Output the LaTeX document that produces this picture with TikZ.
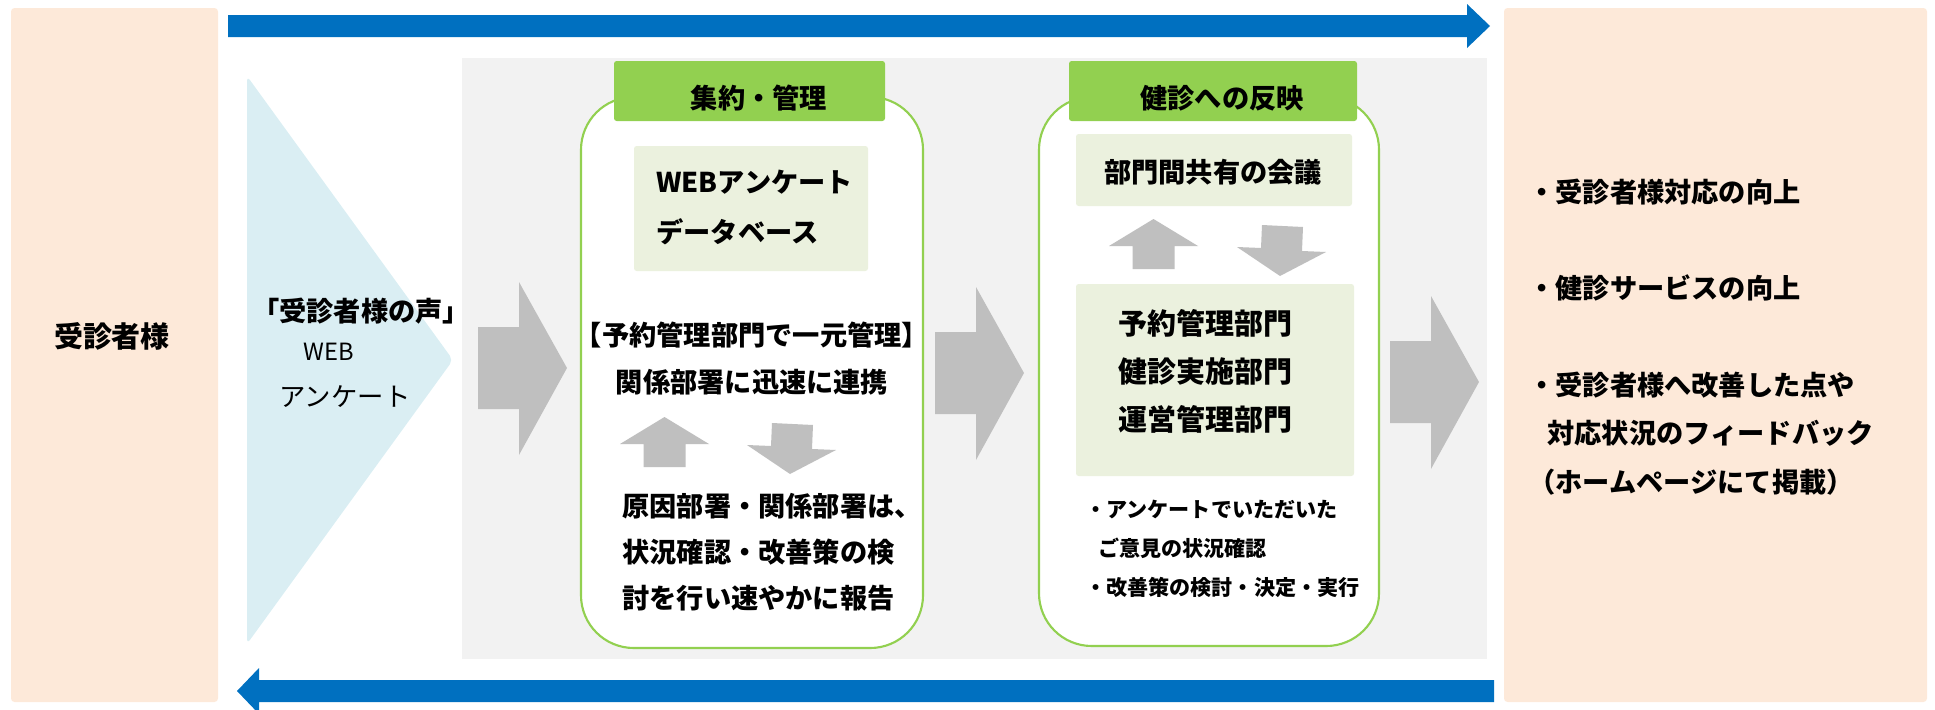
\documentclass[tikz,border=0pt]{standalone}
\usepackage{fontspec}
\setmainfont{Noto Sans CJK JP}
\usetikzlibrary{positioning}

\definecolor{peach}{HTML}{FDE9D9}
\definecolor{flowblue}{HTML}{0070C0}
\definecolor{panelgray}{HTML}{F2F2F2}
\definecolor{leafgreen}{HTML}{92D050}
\definecolor{palegreen}{HTML}{EBF1DE}
\definecolor{skyblue}{HTML}{DAEEF3}
\definecolor{arrowgray}{HTML}{BFBFBF}

\tikzset{
  btxt/.style={font=\bfseries\fontsize{15.5}{26.5}\selectfont, inner sep=0pt},
  bigtxt/.style={font=\bfseries\fontsize{16.5}{27.3}\selectfont, inner sep=0pt},
  ntxt/.style={font=\fontsize{15}{18}\selectfont, inner sep=0pt},
  stxt/.style={font=\bfseries\fontsize{12}{22}\selectfont, inner sep=0pt},
  stagebox/.style={draw=leafgreen, line width=1.2pt, fill=white, rounded corners=30pt},
  palebox/.style={fill=palegreen, rounded corners=1.5pt},
}

\begin{document}
\begin{tikzpicture}[x=0.02cm, y=-0.02cm]
\useasboundingbox (0,0) rectangle (1935,710);

\fill[peach, rounded corners=2pt] (11,8) rectangle (218,702);
\fill[peach, rounded corners=2pt] (1504,8) rectangle (1927,702);

\fill[flowblue] (228,15) -- (1467,15) -- (1467,4) -- (1490,26) -- (1467,48) -- (1467,37) -- (228,37) -- cycle;
\fill[flowblue] (1494,680) -- (259,680) -- (259,668) -- (237,691) -- (259,714) -- (259,702) -- (1494,702) -- cycle;

\fill[panelgray] (462,58) rectangle (1487,659);
\fill[skyblue, rounded corners=3pt] (247,76) -- (453,360) -- (247,644) -- cycle;

\foreach \x/\y in {478/368, 935/373, 1390/382}
  \fill[arrowgray] (\x,\y-41) -- (\x+41,\y-41) -- (\x+41,\y-86) -- (\x+89,\y) -- (\x+41,\y+87) -- (\x+41,\y+41) -- (\x,\y+41) -- cycle;

\draw[stagebox] (581,97) rectangle (923,648);
\draw[stagebox] (1039,97) rectangle (1379,646);
\fill[leafgreen, rounded corners=1.5pt] (614,61) rectangle (885,121);
\fill[leafgreen, rounded corners=1.5pt] (1069,61) rectangle (1357,121);

\fill[palebox] (634,146) rectangle (868,271);
\fill[palebox] (1076,134) rectangle (1352,206);
\fill[palebox] (1076,284) rectangle (1354,476);

\foreach \x/\y in {664.5/417, 1153.5/219}
  \fill[arrowgray] (\x,\y) -- (\x+44.5,\y+27) -- (\x+21,\y+27) -- (\x+21,\y+50) -- (\x-21,\y+50) -- (\x-21,\y+27) -- (\x-44.5,\y+27) -- cycle;
\foreach \x/\y in {772/423, 1262/225}
  \fill[arrowgray] (\x,\y) -- (\x+41,\y+2) -- (\x+40,\y+26) -- (\x+64,\y+27) -- (\x+18,\y+51) -- (\x-25,\y+22) -- (\x-1,\y+23) -- cycle;

\node[bigtxt] (client) at (112,336) {受診者様};
\node[btxt] (voice) at (361,311) {「受診者様の声」};
\node[ntxt, font=\fontsize{13.5}{16}\selectfont] (web) at (329,352) {WEB};
\node[ntxt] (survey) at (345,397) {アンケート};

\node[btxt] (collect) at (759,98) {集約・管理};
\node[btxt, anchor=west, align=left, font=\bfseries\fontsize{15.5}{28}\selectfont] (database) at (656,207.5) {WEBアンケート\\データベース};
\node[btxt, align=center] (central) at (752,358.5) {【予約管理部門で一元管理】\\関係部署に迅速に連携};
\node[btxt, anchor=west, align=left, font=\bfseries\fontsize{15.5}{26.2}\selectfont] (report) at (622,552) {原因部署・関係部署は、\\状況確認・改善策の検\\討を行い速やかに報告};

\node[btxt] (reflect) at (1222,98) {健診への反映};
\node[btxt] (meeting) at (1213,172) {部門間共有の会議};
\node[bigtxt, anchor=west, align=left] (depts) at (1118,371) {予約管理部門\\健診実施部門\\運営管理部門};
\node[stxt, anchor=west, align=left] (review) at (1085,549) {・アンケートでいただいた\\\hspace{0.6em}ご意見の状況確認\\・改善策の検討・決定・実行};

\node[btxt, anchor=west] (result1) at (1528,192) {・受診者様対応の向上};
\node[btxt, anchor=west] (result2) at (1528,288) {・健診サービスの向上};
\node[btxt, anchor=west, align=left, font=\bfseries\fontsize{15.5}{27.6}\selectfont] (result3) at (1528,433.5) {・受診者様へ改善した点や\\\hspace{0.7em}対応状況のフィードバック\\（ホームページにて掲載）};
\end{tikzpicture}
\end{document}
